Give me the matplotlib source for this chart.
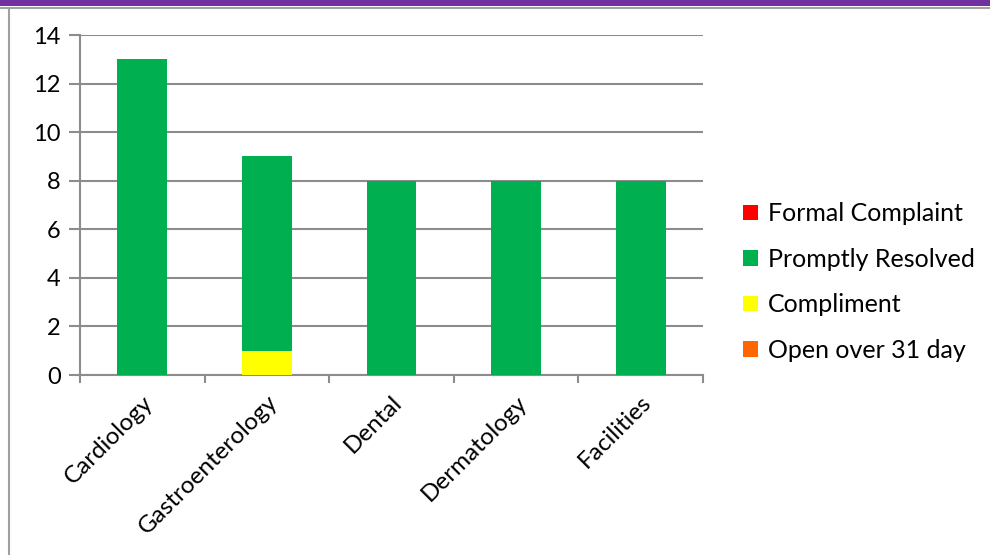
import numpy as np
import matplotlib.pyplot as plt
from matplotlib.patches import Rectangle
from matplotlib.lines import Line2D

plt.rcParams['font.family'] = ['Lato', 'DejaVu Sans']

categories = ['Cardiology', 'Gastroenterology', 'Dental', 'Dermatology', 'Facilities']
open_over_31 = [0, 0, 0, 0, 0]
compliment = [0, 1, 0, 0, 0]
promptly_resolved = [13, 8, 8, 8, 8]
formal_complaint = [0, 0, 0, 0, 0]

# stacked from the bottom up, legend listed top-down
series = [
    ('Open over 31 day', open_over_31, '#FF6600'),
    ('Compliment', compliment, '#FFFF00'),
    ('Promptly Resolved', promptly_resolved, '#00B050'),
    ('Formal Complaint', formal_complaint, '#FF0000'),
]

fig = plt.figure(figsize=(9.9, 5.55), dpi=100)
ax = fig.add_axes([80 / 990, 180 / 555, 623 / 990, 340 / 555])

# frame: purple band on top, grey rule under it and down the left side
fig.patches.append(Rectangle((0, 1 - 6 / 555), 1, 6 / 555, transform=fig.transFigure,
                             facecolor='#7030A0', edgecolor='none'))
fig.lines.append(Line2D([0, 1], [1 - 7.5 / 555] * 2, transform=fig.transFigure,
                        color='#A0A0A0', lw=1.5))
fig.lines.append(Line2D([8.5 / 990] * 2, [0, 1 - 7.5 / 555], transform=fig.transFigure,
                        color='#A0A0A0', lw=1.5))

x = np.arange(len(categories))
bottom = np.zeros(len(categories))
handles = []
for name, vals, col in series:
    b = ax.bar(x, vals, width=0.4, bottom=bottom, color=col, label=name, zorder=3)
    handles.append(b)
    bottom += np.array(vals)

ax.set_xlim(-0.5, len(categories) - 0.5)
ax.set_ylim(0, 14)
ax.set_yticks(np.arange(0, 15, 2))
ax.yaxis.grid(True, color='#8C8C8C', lw=1.5, zorder=0)
ax.set_axisbelow(True)

for s in ['top', 'right']:
    ax.spines[s].set_visible(False)
for s in ['left', 'bottom']:
    ax.spines[s].set_color('#8C8C8C')
    ax.spines[s].set_linewidth(1.5)

ax.set_xticks(np.arange(-0.5, len(categories)), minor=False)
ax.set_xticklabels([])
ax.set_xticks(x, minor=True)
ax.set_xticklabels(categories, minor=True, rotation=45, ha='right',
                   rotation_mode='anchor', fontsize=17.5)
ax.tick_params(axis='x', which='minor', length=0, pad=12)
ax.tick_params(axis='x', which='major', length=6, width=1.5, color='#8C8C8C')
ax.tick_params(axis='y', length=8, width=1.5, color='#8C8C8C', labelsize=17, pad=6)

fig.legend(handles[::-1], [h.get_label() for h in handles[::-1]],
           loc='center left', bbox_to_anchor=(743 / 990, 1 - 282 / 555),
           frameon=False, fontsize=18, handlelength=0.6, handleheight=0.6,
           handletextpad=0.4, labelspacing=0.9, borderaxespad=0, borderpad=0)

fig.savefig('out.png', dpi=100)
